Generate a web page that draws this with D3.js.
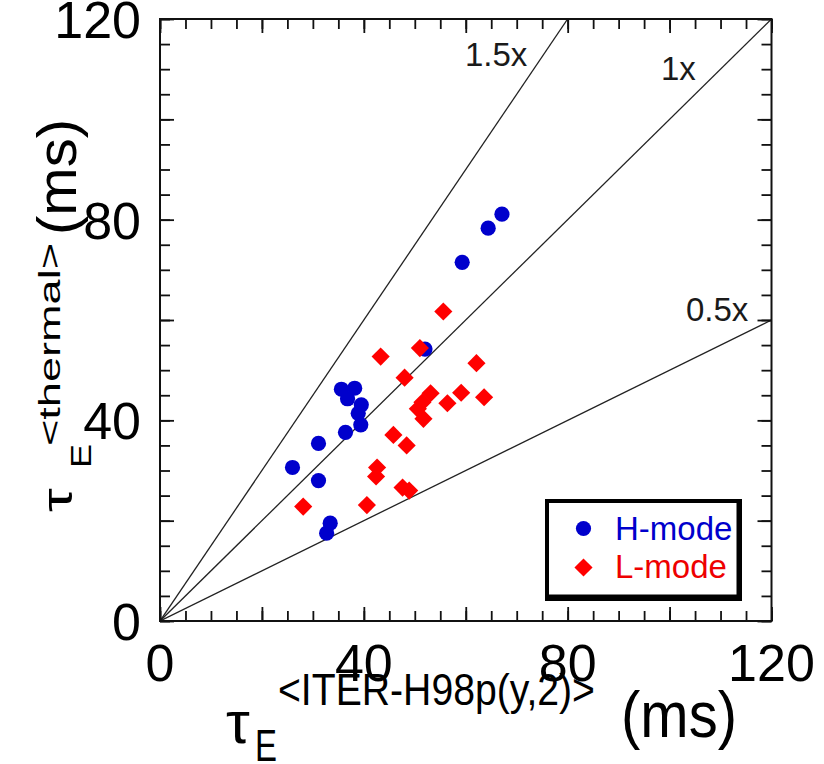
<!DOCTYPE html>
<html>
<head>
<meta charset="utf-8">
<script src="https://cdn.jsdelivr.net/npm/d3@7/dist/d3.min.js"></script>
<style>
  html, body { margin: 0; padding: 0; background: #fff; }
  svg { display: block; font-family: "Liberation Sans", Arial, sans-serif; }
</style>
</head>
<body>
<svg id="chart" width="824" height="764"></svg>
<script>
// ---- data ----
const hModeX = [26.0, 31.1, 31.1, 36.4, 39.4, 35.6, 38.2, 36.8, 39.5, 38.9, 33.4, 32.7, 67.1, 64.4, 59.3, 52.0];
const hModeY = [30.6, 35.4, 28.0, 37.6, 39.1, 46.2, 46.4, 44.3, 43.1, 41.4, 19.5, 17.5, 81.1, 78.3, 71.5, 54.2];
const lModeX = [28.1, 40.6, 47.6, 48.9, 42.6, 42.4, 45.8, 48.4, 48.0, 43.3, 51.0, 55.6, 62.1, 53.1, 51.5, 50.6, 51.7, 56.4, 59.1, 63.6];
const lModeY = [22.8, 23.1, 26.6, 26.0, 30.6, 28.8, 37.1, 35.0, 48.5, 52.7, 54.4, 61.7, 51.4, 45.4, 43.6, 42.3, 40.3, 43.4, 45.5, 44.6];
const ratios = [1.5, 1, 0.5];
const ratioLabels = ["1.5x", "1x", "0.5x"];
const tickLabels = [0, 40, 80, 120];
const legendLabels = ["H-mode", "L-mode"];

// ---- layout ----
const svg = d3.select("#chart");
const x = d3.scaleLinear().domain([0, 120]).range([160, 771.5]);
const y = d3.scaleLinear().domain([0, 120]).range([621, 19]);

// ratio lines (clipped to frame)
svg.append("clipPath").attr("id", "clip").append("rect")
  .attr("x", x(0)).attr("y", y(120)).attr("width", x(120) - x(0)).attr("height", y(0) - y(120));
const gl = svg.append("g").attr("clip-path", "url(#clip)");
ratios.forEach(r => {
  const xe = Math.min(120, 120 / r);
  gl.append("line")
    .attr("x1", x(0)).attr("y1", y(0))
    .attr("x2", x(xe)).attr("y2", y(xe * r))
    .attr("stroke", "#222").attr("stroke-width", 1.3);
});

// ratio labels
const labelPos = [[465, 66], [661, 80], [686, 321]];
ratioLabels.forEach((t, i) => {
  svg.append("text").attr("x", labelPos[i][0]).attr("y", labelPos[i][1])
    .attr("font-size", 33).attr("fill", "#1a1a1a").text(t);
});

// ticks (inward) on all four sides using d3 axes
const minorTicks = d3.range(0, 121, 5);
const majorTicks = d3.range(0, 121, 20);
function addAxes(vals, len) {
  svg.append("g").attr("transform", `translate(0,${y(0)})`)
    .call(d3.axisBottom(x).tickValues(vals).tickSize(-len).tickFormat(""));
  svg.append("g").attr("transform", `translate(0,${y(120)})`)
    .call(d3.axisTop(x).tickValues(vals).tickSize(-len).tickFormat(""));
  svg.append("g").attr("transform", `translate(${x(0)},0)`)
    .call(d3.axisLeft(y).tickValues(vals).tickSize(-len).tickFormat(""));
  svg.append("g").attr("transform", `translate(${x(120)},0)`)
    .call(d3.axisRight(y).tickValues(vals).tickSize(-len).tickFormat(""));
}
addAxes(minorTicks, 10);
addAxes(majorTicks, 14);
svg.selectAll(".domain").remove();
svg.selectAll(".tick line").attr("stroke", "#111").attr("stroke-width", 1.8);

// frame
svg.append("rect").attr("x", x(0)).attr("y", y(120))
  .attr("width", x(120) - x(0)).attr("height", y(0) - y(120))
  .attr("fill", "none").attr("stroke", "#111").attr("stroke-width", 2);

// tick labels
tickLabels.forEach(v => {
  svg.append("text").attr("x", x(v)).attr("y", 681)
    .attr("text-anchor", "middle").attr("font-size", 52).text(v);
  svg.append("text").attr("x", 141).attr("y", y(v) + 19)
    .attr("text-anchor", "end").attr("font-size", 52).text(v);
});

// data points
const hData = hModeX.map((d, i) => ({ x: d, y: hModeY[i] }));
const lData = lModeX.map((d, i) => ({ x: d, y: lModeY[i] }));
const diamond = d3.symbol().type(d3.symbolSquare).size(165);
svg.append("g").selectAll("circle").data(hData).join("circle")
  .attr("cx", d => x(d.x)).attr("cy", d => y(d.y)).attr("r", 7.6).attr("fill", "#0000cc");
svg.append("g").selectAll("path").data(lData).join("path")
  .attr("d", diamond)
  .attr("transform", d => `translate(${x(d.x)},${y(d.y)}) rotate(45)`)
  .attr("fill", "#ff0000");

// legend
const lg = svg.append("g");
lg.append("rect").attr("x", 545).attr("y", 499).attr("width", 197).attr("height", 102).attr("fill", "#000");
lg.append("rect").attr("x", 549).attr("y", 503).attr("width", 187.5).attr("height", 91.5).attr("fill", "#fff");
lg.append("circle").attr("cx", 583.5).attr("cy", 528.5).attr("r", 7.6).attr("fill", "#0000cc");
lg.append("path").attr("d", diamond).attr("transform", "translate(583.5,567.5) rotate(45)").attr("fill", "#ff0000");
lg.append("text").attr("x", 615).attr("y", 540).attr("font-size", 33).attr("fill", "#0000cc").text(legendLabels[0]);
lg.append("text").attr("x", 615).attr("y", 578).attr("font-size", 33).attr("fill", "#ee0000").text(legendLabels[1]);

// axis titles (x)
function txt(parent, t, xx, yy, fs, len) {
  const e = parent.append("text").attr("x", xx).attr("y", yy).attr("font-size", fs).text(t);
  if (len) e.attr("textLength", len).attr("lengthAdjust", "spacingAndGlyphs");
  return e;
}
txt(svg, "τ", 226, 743, 60);
txt(svg, "E", 255, 761, 44, 22);
txt(svg, "<ITER-H98p(y,2)>", 278, 705, 44, 317);
txt(svg, "(ms)", 621, 737, 64, 116);

// axis titles (y, rotated, glyphs squashed across the baseline)
function rtxt(t, bx, startY, fs, sq, len) {
  const g = svg.append("g").attr("transform", `translate(${bx},${startY}) scale(${sq},1) rotate(-90)`);
  return txt(g, t, 0, 0, fs, len);
}
rtxt("τ", 72, 512, 60, 0.7);
rtxt("E", 91, 468, 44, 0.65, 24);
rtxt("<thermal>", 60, 446, 44, 0.65, 203);
rtxt("(ms)", 76, 235, 64, 0.88, 116);
</script>
</body>
</html>
